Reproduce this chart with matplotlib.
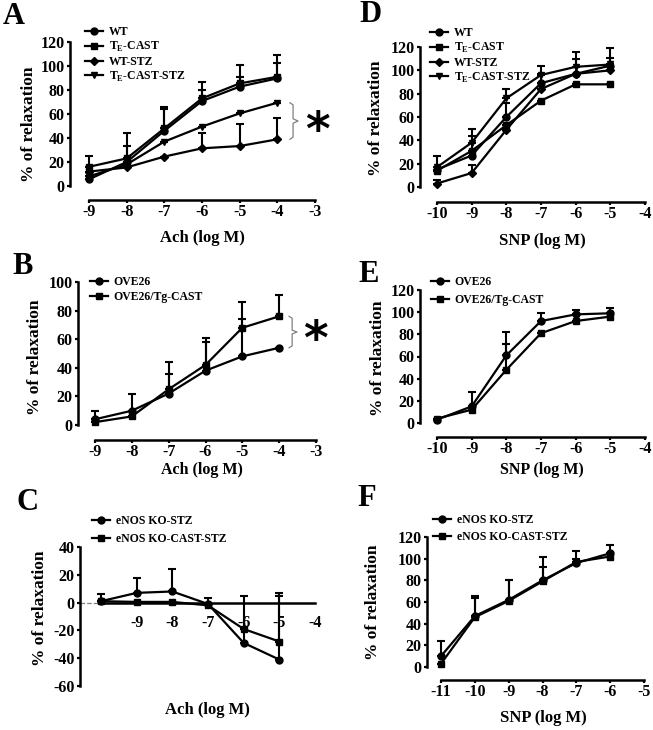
import numpy as np
import matplotlib
matplotlib.use('Agg')
import matplotlib.pyplot as plt
import matplotlib.transforms as mtransforms

plt.rcParams['font.family'] = ['Liberation Serif', 'DejaVu Serif']
plt.rcParams['font.weight'] = 'bold'
plt.rcParams['axes.unicode_minus'] = False

# ---- data ----
# A: Ach, upper errors only
A_x = [-9, -8, -7, -6, -5, -4]
A_wt = [5.6, 20, 46, 70.8, 82.8, 89.7]
A_tg = [16, 23, 48, 73, 85.5, 91]
A_wtstz = [12, 15.5, 24.5, 31.4, 33.3, 38.9]
A_tgstz = [8, 18, 37, 49.5, 60.5, 69.4]
A_wt_err = [0, 13, 18, 9, 8, 13]
A_tg_err = [9, 21, 17.5, 14, 15.5, 18]
A_wtstz_err = [0, 0, 0, 12.6, 18.7, 18]
A_tgstz_err = [0, 0, 0, 0, 0, 0]

# D: SNP
D_x = [-10, -9, -8, -7, -6, -5]
D_wt = [15, 27, 60, 89, 97, 104]
D_tg = [14, 31, 53, 74, 88, 88]
D_wtstz = [3, 12, 49, 84, 97, 100]
D_tgstz = [17, 38, 76, 96, 103, 105]
D_wt_err = [0, 17, 12, 8, 13, 7]
D_tg_err = [0, 0, 0, 0, 0, 0]
D_wtstz_err = [3, 7, 0, 0, 0, 0]
D_tgstz_err = [10, 12, 8, 8, 13, 14]

# B: Ach, OVE26
B_x = [-9, -8, -7, -6, -5, -4]
B_ove = [4, 10, 22, 38, 48, 54]
B_ovetg = [2, 6, 25, 42, 68, 76]
B_ove_err = [0, 0, 14, 20, 26, 0]
B_ovetg_err = [8, 16, 19, 19, 18, 15]

# E: SNP, OVE26
E_x = [-10, -9, -8, -7, -6, -5]
E_ove = [3, 15, 61, 92, 98, 99]
E_ovetg = [4, 12, 48, 81, 92, 96]
E_ove_err = [0, 13, 21, 7, 4, 5]
E_ovetg_err = [0, 0, 23, 0, 0, 0]

# C: Ach, eNOS KO
C_x = [-10, -9, -8, -7, -6, -5]
C_stz = [1, 7, 8, -1, -29, -41]
C_cast = [1, 0.5, 0.5, -2, -19, -28]
C_stz_err = [5, 11, 16, 4, 34, 48]
C_cast_err = [0, 0, 0, 0, 0, 33]

# F: SNP, eNOS KO
F_x = [-11, -10, -9, -8, -7, -6]
F_stz = [10, 47, 62, 80, 96, 105]
F_cast = [3, 46, 61, 79, 97, 102]
F_stz_err = [14, 19, 18, 22, 11, 8]
F_cast_err = [0, 18, 19, 13, 3, 0]

W, H = 653, 730
fig = plt.figure(figsize=(W / 100, H / 100), dpi=100)


def fx(px):
    return px / W


def fy(py):
    return 1 - py / H


def make_ax(l, r, t, b):
    return fig.add_axes([l / W, 1 - b / H, (r - l) / W, (b - t) / H])


def style(ax, xlim, ylim, xticks, yticks, left_off, bottom_off):
    ax.set_xlim(xlim)
    ax.set_ylim(ylim)
    ax.spines['top'].set_visible(False)
    ax.spines['right'].set_visible(False)
    ax.spines['left'].set_position(('outward', left_off * 0.72))
    if bottom_off is not None:
        ax.spines['bottom'].set_position(('outward', bottom_off * 0.72))
    for s in ['left', 'bottom']:
        ax.spines[s].set_linewidth(1.8)
    ax.set_xticks(xticks)
    ax.set_yticks(yticks)
    ax.tick_params(width=1.6, length=2.5, labelsize=11.5, pad=1.5)
    ax.tick_params(axis='x', pad=0.5)
    ax.patch.set_visible(False)


def series(ax, x, y, err, marker, label, ms=5):
    eb = ax.errorbar(x, y, yerr=[np.zeros(len(err)), err], fmt='none',
                     ecolor='k', elinewidth=1.5, capsize=3.2, capthick=1.5)
    for a in eb.get_children():
        a.set_clip_on(False)
    ax.plot(x, y, '-', marker=marker, color='k', lw=1.6, ms=ms,
            label=label, clip_on=False)


def legend(ax, left, top, spacing):
    ax.legend(loc='upper left', bbox_to_anchor=(fx(left), fy(top)),
              bbox_transform=fig.transFigure, frameon=False, borderpad=0,
              borderaxespad=0, handlelength=1.5, handletextpad=0.5,
              labelspacing=spacing, fontsize=8.5)


def brace(ax, x0, x1, x2, top, bottom):
    tr = mtransforms.blended_transform_factory(ax.transAxes, ax.transData)
    mid = (top + bottom) / 2
    d = (top - bottom) * 0.06
    ax.plot([x0, x1, x1, x2, x1, x1, x0],
            [top, top - d, mid + d, mid, mid - d, bottom + d, bottom],
            color='grey', lw=0.9, transform=tr, clip_on=False)
    ax.text(x2 + 0.085, mid - (top - bottom) * 0.3, '*', transform=tr,
            fontsize=34, ha='center', va='center', family='DejaVu Sans')


def label_axes(xl, xlx, xly, yl, ylx, yly, xsize=12):
    fig.text(fx(xlx), fy(xly), xl, ha='center', va='center', fontsize=xsize)
    fig.text(fx(ylx), fy(yly), yl, ha='center', va='center', fontsize=12.5,
             rotation=90)


tg = 'T$_\\mathregular{E}$'

# ---- Panel A ----
axA = make_ax(89, 315, 42, 186)
style(axA, (-9, -3), (0, 120), range(-9, -2), range(0, 121, 20), 19, 14)
series(axA, A_x, A_wt, A_wt_err, 'o', 'WT')
series(axA, A_x, A_tg, A_tg_err, 's', tg + '-CAST')
series(axA, A_x, A_wtstz, A_wtstz_err, 'D', 'WT-STZ', ms=4)
series(axA, A_x, A_tgstz, A_tgstz_err, 'v', tg + '-CAST-STZ')
legend(axA, 85, 26, 0.15)
brace(axA, 0.889, 0.903, 0.925, A_tgstz[-1], A_wtstz[-1])
label_axes('Ach (log M)', 202, 238, '% of relaxation', 29, 124)

# ---- Panel D ----
axD = make_ax(437, 645, 47, 187)
style(axD, (-10, -4), (0, 120), range(-10, -3), range(0, 121, 20), 17, 15)
series(axD, D_x, D_wt, D_wt_err, 'o', 'WT')
series(axD, D_x, D_tg, D_tg_err, 's', tg + '-CAST')
series(axD, D_x, D_wtstz, D_wtstz_err, 'D', 'WT-STZ', ms=4)
series(axD, D_x, D_tgstz, D_tgstz_err, 'v', tg + '-CAST-STZ')
legend(axD, 430, 27, 0.15)
label_axes('SNP (log M)', 542, 241, '% of relaxation', 376, 118)

# ---- Panel B ----
axB = make_ax(95, 316, 282, 425)
style(axB, (-9, -3), (0, 100), range(-9, -2), range(0, 101, 20), 17, 15)
series(axB, B_x, B_ove, B_ove_err, 'o', 'OVE26')
series(axB, B_x, B_ovetg, B_ovetg_err, 's', 'OVE26/Tg-CAST')
legend(axB, 90, 276, 0.25)
brace(axB, 0.878, 0.892, 0.914, B_ovetg[-1], B_ove[-1])
label_axes('Ach (log M)', 202, 470, '% of relaxation', 35, 357, 11.5)

# ---- Panel E ----
axE = make_ax(437, 645, 290, 423)
style(axE, (-10, -4), (0, 120), range(-10, -3), range(0, 121, 20), 17, 14)
series(axE, E_x, E_ove, E_ove_err, 'o', 'OVE26')
series(axE, E_x, E_ovetg, E_ovetg_err, 's', 'OVE26/Tg-CAST')
legend(axE, 431, 276, 0.5)
label_axes('SNP (log M)', 542, 470, '% of relaxation', 378, 358, 11.5)

# ---- Panel C ----
axC = make_ax(101, 315, 547, 686)
style(axC, (-10, -4), (-60, 40), range(-10, -3), range(-60, 41, 20), 21, None)
axC.spines['bottom'].set_position(('data', 0))
axC.tick_params(axis='x', length=0, pad=9)
axC.set_xticklabels([''] + [str(v) for v in range(-9, -3)])
tr = mtransforms.blended_transform_factory(axC.transAxes, axC.transData)
axC.plot([-21 / 214, 0], [0, 0], ls='--', color='grey', lw=0.9,
         transform=tr, clip_on=False)
series(axC, C_x, C_stz, C_stz_err, 'o', 'eNOS KO-STZ')
series(axC, C_x, C_cast, C_cast_err, 's', 'eNOS KO-CAST-STZ')
legend(axC, 92, 515, 0.55)
label_axes('Ach (log M)', 207, 710, '% of relaxation', 40, 608)

# ---- Panel F ----
axF = make_ax(441, 644, 537, 667)
style(axF, (-11, -5), (0, 120), range(-11, -4), range(0, 121, 20), 14, 13)
series(axF, F_x, F_stz, F_stz_err, 'o', 'eNOS KO-STZ')
series(axF, F_x, F_cast, F_cast_err, 's', 'eNOS KO-CAST-STZ')
legend(axF, 433, 514, 0.4)
label_axes('SNP (log M)', 543, 718, '% of relaxation', 373, 602)

# panel letters
for letter, px, py in [('A', 14, 16), ('D', 370, 15), ('B', 23, 267),
                       ('E', 369, 275), ('C', 27, 503), ('F', 367, 498)]:
    fig.text(fx(px), fy(py), letter, ha='center', va='center', fontsize=22)

fig.savefig('out.png', dpi=100)
